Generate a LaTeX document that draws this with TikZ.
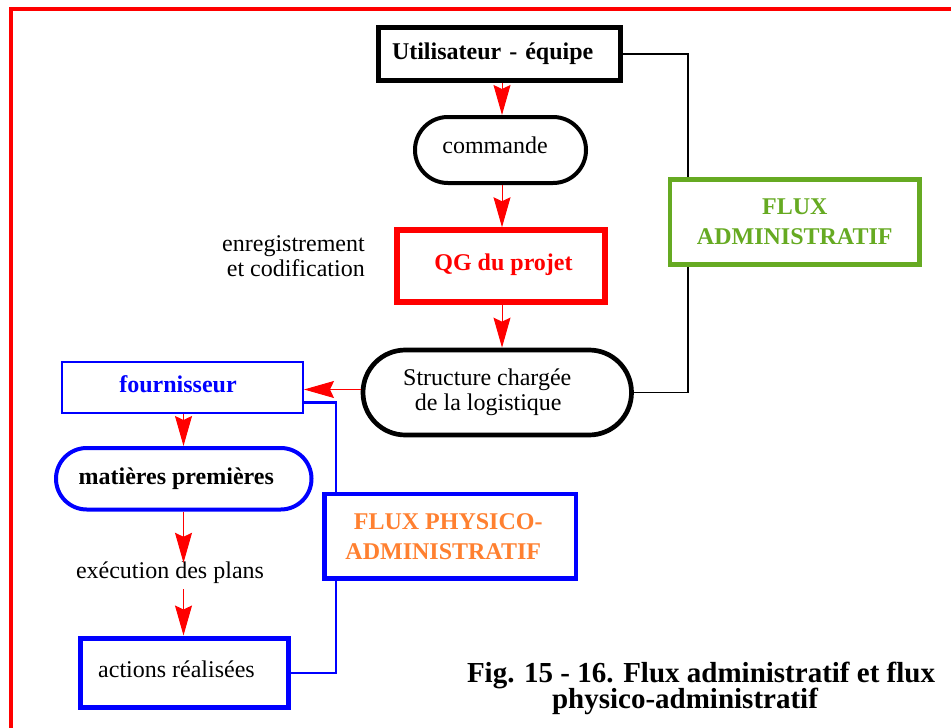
\documentclass[tikz,border=0pt]{standalone}
\usepackage{fontspec}
\setmainfont{Liberation Serif}
\usetikzlibrary{arrows.meta}
\definecolor{admgreen}{RGB}{102,170,34}
\definecolor{physorange}{RGB}{255,128,48}
\lineskiplimit=-100pt
\newcommand{\txtfont}{\fontsize{24}{25}\selectfont}
\newcommand{\flxfont}{\fontsize{24}{30}\selectfont\bfseries}
\newcommand{\capfont}{\fontsize{29}{25.5}\selectfont\bfseries}

\begin{document}
\begin{tikzpicture}[x=1pt,y=-1pt,
  box/.style={draw, fill=white, rectangle, inner sep=0pt, font=\txtfont},
  pill/.style={box, rounded corners=#1},
  onel/.style={text height=16.4, text depth=#1},
  arr/.style={draw=red, line width=1, -{Stealth[length=30, width=17, inset=4]}},
  adm/.style={draw=black, line width=1.6},
  phys/.style={draw=blue, line width=2.5},
]
\useasboundingbox (0,0) rectangle (951,728);

% outer frame
\draw[red, line width=4] (11,9) rectangle (975,750);

% administrative chain
\node[box, line width=5, minimum width=242, minimum height=52.5, text width=215,
      align=left, inner xsep=13.5, font=\txtfont\bfseries, onel=5.9] (U) at (499.5,53.75) {Utilisateur - équipe};
\node[pill=32.9, line width=4, minimum width=171, minimum height=66, onel=9.8] (C) at (500.5,150) {commande\hspace*{11pt}};
\node[box, draw=red, line width=5.5, minimum width=208, minimum height=72, onel=8.4,
      text=red, font=\txtfont\bfseries] (Q) at (501,266) {\hspace*{5pt}QG du projet};
\node[pill=42.4, line width=4.7, minimum width=268.5, minimum height=85, align=center] (S) at (497.25,392.5)
      {Structure chargée\hspace*{20pt}\\de la logistique\hspace*{18pt}};
\node[font=\txtfont, align=right, inner sep=0pt, anchor=east] (L) at (365,256.1) {enregistrement\\et codification};

\node[box, draw=admgreen, line width=4.7, minimum width=249.5, minimum height=85, align=center,
      font=\flxfont, text=admgreen] (G) at (794.75,222) {FLUX\\ADMINISTRATIF};

% physical chain
\node[box, draw=blue, line width=2, minimum width=241, minimum height=51, onel=6,
      text=blue, font=\txtfont\bfseries] (F) at (182.5,387.5) {fournisseur\hspace*{9pt}};
\node[pill=30.7, draw=blue, line width=4, minimum width=255.5, minimum height=61.5, onel=5.9,
      font=\txtfont\bfseries] (M) at (183.75,478.75) {matières premières\hspace*{15pt}};
\node[inner sep=0pt, font=\txtfont, text height=15, text depth=10.8, anchor=base] (E) at (170,578) {exécution des plans};
\node[box, draw=blue, line width=5, minimum width=208, minimum height=69.5, onel=7.3] (A) at (184,672.75)
      {actions réalisées\hspace*{15pt}};

\node[box, draw=blue, line width=4.5, minimum width=251.5, minimum height=84.5, align=center,
      font=\flxfont, text=physorange] (P) at (450.25,536.25) {FLUX PHYSICO-\hspace*{4pt}\\ADMINISTRATIF\hspace*{14pt}};

% caption
\node[font=\capfont, align=center, inner sep=0pt] (T) at (701,688.5)
      {Fig. 15 - 16. Flux administratif et flux\\physico-administratif\hspace*{32pt}};

% helper axes for the connectors
\coordinate (ax) at (502,0);
\coordinate (lax) at (183.5,0);
\coordinate (ry) at (0,389.5);
\coordinate (adx) at (688,0);
\coordinate (phx) at (336,0);
\coordinate (phy) at (0,402.7);

% flow arrows
\draw[arr] (U.south -| ax) -- (C.north -| ax);
\draw[arr] (C.south -| ax) -- (Q.north -| ax);
\draw[arr] (Q.south -| ax) -- (S.north -| ax);
\draw[arr] (S.west |- ry) -- (F.east |- ry);
\draw[arr] (F.south -| lax) -- (M.north -| lax);
\draw[arr] (M.south -| lax) -- (E.north -| lax);
\draw[arr] (E.south -| lax) -- (A.north -| lax);

% administrative loop
\draw[adm] (U.east) -| (adx |- G.north);
\draw[adm] (adx |- G.south) |- (S.east);

% physico-administrative loop
\draw[phys] (F.east |- phy) -| (phx |- P.north);
\draw[phys] (phx |- P.south) |- (A.east);
\end{tikzpicture}
\end{document}
